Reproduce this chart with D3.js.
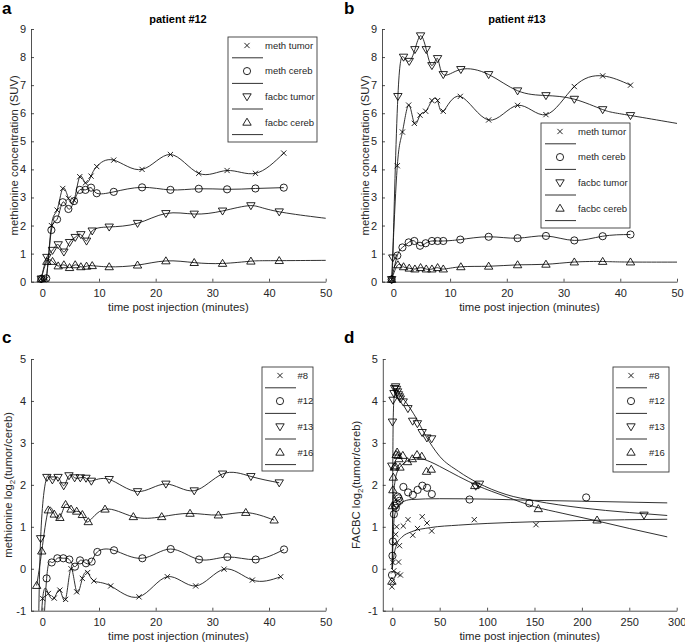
<!DOCTYPE html>
<html>
<head>
<meta charset="utf-8">
<script src="https://cdn.jsdelivr.net/npm/d3@7"></script>
<style>
  body { margin: 0; background: #fff; }
  svg { font-family: "Liberation Sans", Arial, sans-serif; }
</style>
</head>
<body>
<svg id="chart" width="685" height="643"></svg>
<script>
// ---- panel a: patient #12, concentration (SUV) vs minutes ----
const aMethTumor = [[-0.2,0.1],[0.7,0.1],[1.6,2.0],[2.6,2.55],[3.6,3.32],[4.6,2.97],[5.6,2.9],[6.6,3.74],[7.6,3.52],[8.6,3.76],[9.6,4.1],[12.6,4.33],[17.6,4.0],[22.6,4.53],[27.6,3.86],[32.6,3.96],[37.6,3.86],[42.6,4.58]];
const aMethCereb = [[-0.2,0.1],[0.7,0.12],[1.6,1.84],[2.6,2.22],[3.6,2.83],[4.6,2.59],[5.6,2.87],[6.6,3.27],[7.6,3.27],[8.6,3.35],[9.6,3.15],[12.6,3.2],[17.6,3.36],[22.6,3.27],[27.6,3.31],[32.6,3.29],[37.6,3.32],[42.6,3.35]];
const aFacbcTumor = [[-0.2,0.1],[0.8,0.87],[1.8,1.12],[2.8,1.32],[3.8,1.06],[4.8,1.4],[5.8,1.58],[6.8,1.68],[7.8,1.45],[8.8,1.81],[11.8,1.95],[16.8,2.08],[21.8,2.43],[26.8,2.41],[31.8,2.52],[36.8,2.71],[41.8,2.49],[56.8,2.1]];
const aFacbcCereb = [[-0.2,0.1],[0.8,0.72],[1.8,0.72],[2.8,0.56],[3.8,0.6],[4.8,0.5],[5.8,0.6],[6.8,0.53],[7.8,0.55],[8.8,0.57],[11.8,0.53],[16.8,0.59],[21.8,0.74],[26.8,0.68],[31.8,0.65],[36.8,0.73],[41.8,0.75],[56.8,0.77]];

// ---- panel b: patient #13 ----
const bMethTumor = [[-0.3,0.08],[0.7,4.13],[1.6,5.33],[2.7,6.29],[3.7,5.64],[4.7,5.93],[5.7,6.07],[6.8,6.45],[7.8,6.45],[8.8,6.07],[11.8,6.6],[16.8,5.76],[21.9,6.28],[26.9,5.95],[31.9,6.95],[36.9,7.33],[41.8,7.0]];
const bMethCereb = [[-0.3,0.08],[0.7,0.93],[1.6,1.22],[2.7,1.4],[3.7,1.45],[4.7,1.28],[5.7,1.37],[6.8,1.45],[7.8,1.45],[8.8,1.45],[11.8,1.5],[16.8,1.6],[21.9,1.55],[26.9,1.63],[31.9,1.47],[36.9,1.62],[41.8,1.68]];
const bFacbcTumor = [[-0.3,0.08],[-0.1,0.85],[0.8,6.6],[1.8,8.0],[2.8,7.85],[3.8,8.27],[4.8,8.76],[5.8,8.27],[6.8,7.7],[7.8,7.95],[8.8,7.38],[11.9,7.56],[16.8,7.38],[21.9,6.8],[26.9,6.63],[31.9,6.5],[36.9,6.13],[41.8,5.92],[56.8,5.4]];
const bFacbcCereb = [[-0.3,0.08],[0.8,0.6],[1.8,0.53],[2.8,0.48],[3.8,0.45],[4.8,0.5],[5.8,0.45],[6.8,0.45],[7.8,0.5],[8.8,0.45],[11.9,0.53],[16.8,0.55],[21.9,0.6],[26.9,0.62],[31.9,0.7],[36.9,0.72],[41.8,0.7],[56.8,0.7]];

// ---- panel c: methionine log2(tumor/cereb) ----
const cP8 = [[-0.7,-3],[0.06,-0.71],[1.06,-0.59],[2.1,-0.7],[3.1,-0.51],[4.1,-0.73],[5.06,0.0],[6.06,-0.55],[7.06,-0.23],[8.0,-0.09],[9.1,-0.29],[12.06,-0.41],[17.06,-0.67],[22.06,-0.19],[27.06,-0.41],[32.06,-0.01],[37.06,-0.27],[42.06,-0.19]];
const cP12 = [[-0.3,-3],[0.76,-0.23],[1.65,0.15],[2.65,0.25],[3.7,0.25],[4.76,0.22],[5.76,0.05],[6.65,0.2],[7.7,0.13],[8.7,0.17],[9.7,0.4],[12.65,0.44],[17.65,0.25],[22.65,0.47],[27.65,0.22],[32.65,0.28],[37.65,0.22],[42.65,0.46]];
const cP13 = [[-0.8,-3],[-0.3,0.72],[0.8,2.18],[1.77,2.12],[2.77,2.18],[3.77,1.98],[4.7,2.22],[5.7,2.17],[6.7,2.17],[7.7,2.16],[8.65,2.09],[11.8,2.13],[16.8,1.84],[21.8,2.02],[26.8,1.86],[31.8,2.26],[36.8,2.2],[41.8,2.05]];
const cP16 = [[-1.0,-0.4],[-0.1,0.42],[1.06,1.4],[2.1,1.3],[3.1,1.22],[4.1,1.53],[5.06,1.42],[6.06,1.37],[7.06,1.29],[8.1,1.12],[11.06,1.42],[16.06,1.24],[21.06,1.24],[26.06,1.32],[31.06,1.28],[35.9,1.34],[40.9,1.16]];

// ---- panel d: FACBC log2(tumor/cereb), points and fitted curves ----
const dP8 = [[-0.4,-0.43],[0.1,-0.3],[0.6,0.15],[1.6,-0.05],[2.6,0.6],[3.6,0.82],[4.6,1.0],[5.6,-0.12],[6.6,0.16],[7.6,0.55],[8.6,-0.15],[11.6,1.02],[16.6,1.17],[21.6,0.8],[26.6,0.96],[31.6,1.24],[36.6,1.09],[41.6,0.9],[86.5,1.17],[151.6,1.05]];
const dP12 = [[-0.3,-0.15],[0.2,0.31],[0.7,0.65],[1.7,1.3],[2.7,1.5],[3.7,1.45],[4.7,1.55],[5.7,1.72],[6.7,1.68],[7.7,1.62],[11.7,1.95],[16.7,1.82],[21.7,1.76],[26.7,1.88],[31.7,1.98],[36.7,1.93],[41.7,1.78],[81.5,1.65],[144.5,1.56],[204.5,1.7]];
const dP13 = [[-0.5,2.45],[0.2,3.5],[0.8,4.02],[1.8,4.18],[2.5,4.3],[3.5,4.34],[4.5,4.28],[5.5,4.22],[6.5,4.15],[7.5,4.1],[8.5,4.05],[11.5,3.98],[16.5,3.82],[21.5,3.52],[26.5,3.46],[31.5,3.25],[36.5,3.12],[41.5,3.1],[88,1.97],[92,2.02],[265.5,1.28]];
const dP16 = [[-0.4,-0.3],[0.1,1.5],[0.6,1.88],[1.1,2.18],[2.1,2.42],[3.1,2.45],[4.1,2.72],[5.1,2.78],[6.1,2.7],[7.1,2.62],[8.1,2.42],[11.1,2.7],[16.1,2.55],[21.1,2.62],[26.1,2.72],[31.1,2.68],[36.1,2.32],[41.1,2.37],[87,1.98],[154,1.43],[216,1.16]];
const dFit8 = [[0,0],[2,0.35],[5,0.6],[10,0.75],[20,0.88],[40,0.98],[70,1.04],[100,1.08],[150,1.12],[200,1.15],[290,1.18]];
const dFit12 = [[0,0],[1,0.8],[2,1.2],[5,1.45],[10,1.58],[20,1.65],[50,1.67],[100,1.66],[150,1.63],[200,1.61],[290,1.57]];
const dFit13 = [[0,0],[1,3.6],[2,4.1],[4,4.3],[8,4.15],[15,3.95],[25,3.6],[35,3.18],[50,2.68],[70,2.32],[90,2.05],[120,1.77],[150,1.62],[200,1.45],[250,1.34],[290,1.27]];
const dFit16 = [[0,0],[1,1.6],[3,2.1],[6,2.35],[10,2.47],[20,2.6],[30,2.62],[40,2.55],[50,2.44],[70,2.2],[90,1.98],[120,1.72],[150,1.48],[180,1.32],[216,1.14],[250,0.96],[290,0.76]];

const labelsAB = ["meth tumor", "meth cereb", "facbc tumor", "facbc cereb"];
const labelsCD = ["#8", "#12", "#13", "#16"];
const xTicksShort = [0, 10, 20, 30, 40, 50];
const xTicksLong = [0, 50, 100, 150, 200, 250, 300];
const yTicksSUV = [0, 1, 2, 3, 4, 5, 6, 7, 8, 9];
const yTicksLog = [-1, 0, 1, 2, 3, 4, 5];

const axisColor = "#262626";
const svg = d3.select("#chart");

// marker shapes: x, circle, triangle down, triangle up
const markerPath = [
  "M-2.6,-2.6L2.6,2.6M-2.6,2.6L2.6,-2.6",
  "M3.6,0A3.6,3.6 0 1,1 -3.6,0A3.6,3.6 0 1,1 3.6,0Z",
  "M-4.2,-2.9L4.2,-2.9L0,4.1Z",
  "M-4.2,2.9L4.2,2.9L0,-4.1Z"
];

function drawPanel(p) {
  const g = svg.append("g");
  const x = d3.scaleLinear().domain(p.xDomain).range(p.xRange);
  const y = d3.scaleLinear().domain(p.yDomain).range(p.yRange);

  g.append("clipPath").attr("id", "clip-" + p.id)
    .append("rect")
    .attr("x", p.xRange[0]).attr("y", p.yRange[1])
    .attr("width", p.xRange[1] - p.xRange[0])
    .attr("height", p.yRange[0] - p.yRange[1]);

  // axes, MATLAB style: ticks inside, no box
  const fmt = d => String(d);
  const xAxis = g.append("g")
    .attr("transform", `translate(0,${p.yRange[0]})`)
    .call(d3.axisBottom(x).tickValues(p.xTicks).tickFormat(fmt).tickSize(-3).tickSizeOuter(0).tickPadding(8));
  const yAxis = g.append("g")
    .attr("transform", `translate(${p.xRange[0]},0)`)
    .call(d3.axisLeft(y).tickValues(p.yTicks).tickFormat(fmt).tickSize(-3).tickSizeOuter(0).tickPadding(5));
  [xAxis, yAxis].forEach(a => {
    a.attr("font-family", null).attr("font-size", 11);
    a.selectAll("path, line").attr("stroke", axisColor).attr("stroke-width", 0.8);
    a.selectAll("text").attr("fill", axisColor);
  });

  const line = d3.line().x(d => x(d[0])).y(d => y(d[1]));
  const plot = g.append("g").attr("clip-path", `url(#clip-${p.id})`);

  // spline through the points (a-c) or fitted curves (d)
  const curves = p.fits || p.series;
  plot.selectAll("path.curve")
    .data(curves)
    .enter().append("path")
    .attr("class", "curve")
    .attr("d", d => line.curve(p.fits ? d3.curveMonotoneX : d3.curveNatural)(d))
    .attr("fill", "none")
    .attr("stroke", "#1a1a1a")
    .attr("stroke-width", 0.9);

  const inside = d => d[0] >= p.xDomain[0] && d[0] <= p.xDomain[1] && d[1] >= p.yDomain[0] && d[1] <= p.yDomain[1];
  p.series.forEach((s, i) => {
    g.append("g").selectAll("path")
      .data(s.filter(inside))
      .enter().append("path")
      .attr("d", markerPath[i])
      .attr("transform", d => `translate(${x(d[0])},${y(d[1])})`)
      .attr("fill", "none")
      .attr("stroke", "#000")
      .attr("stroke-width", 0.85);
  });

  // legend: marker entry with label, then an unlabeled line entry
  const L = p.legend;
  const lg = g.append("g").attr("transform", `translate(${L.x},${L.y})`);
  lg.append("rect").attr("width", L.w).attr("height", L.h)
    .attr("fill", "#fff").attr("stroke", "#3a3a3a").attr("stroke-width", 0.9);
  p.labels.forEach((lab, i) => {
    const ry = 8.5 + i * 25.6;
    lg.append("path").attr("d", markerPath[i])
      .attr("transform", `translate(${L.mx},${ry})`)
      .attr("fill", "none").attr("stroke", "#000").attr("stroke-width", 0.85);
    lg.append("text").attr("x", L.tx).attr("y", ry + 3.3)
      .attr("font-size", 9.5).attr("fill", axisColor).text(lab);
    lg.append("line").attr("x1", L.lx0).attr("x2", L.lx1)
      .attr("y1", ry + 12.3).attr("y2", ry + 12.3)
      .attr("stroke", "#1a1a1a").attr("stroke-width", 0.9);
  });

  // labels
  const xMid = (p.xRange[0] + p.xRange[1]) / 2;
  const yMid = (p.yRange[0] + p.yRange[1]) / 2;
  g.append("text").attr("x", xMid).attr("y", p.yRange[0] + 29.5)
    .attr("text-anchor", "middle").attr("font-size", 11.3).attr("fill", axisColor)
    .text("time post injection (minutes)");
  const yl = g.append("text")
    .attr("transform", `translate(${p.ylabelX},${yMid}) rotate(-90)`)
    .attr("text-anchor", "middle").attr("font-size", 11.3).attr("fill", axisColor);
  if (p.ylabelSub) {
    yl.append("tspan").text(p.ylabel[0]);
    yl.append("tspan").attr("dy", 3).attr("font-size", 8).text("2");
    yl.append("tspan").attr("dy", -3).text(p.ylabel[1]);
  } else {
    yl.text(p.ylabel);
  }
  if (p.title) {
    g.append("text").attr("x", p.titleX).attr("y", 23)
      .attr("text-anchor", "middle").attr("font-size", 11).attr("font-weight", "bold")
      .attr("fill", "#000").text(p.title);
  }
  g.append("text").attr("x", p.letterX).attr("y", p.letterY)
    .attr("font-size", 17).attr("font-weight", "bold").attr("fill", "#000").text(p.letter);
}

drawPanel({
  id: "a", letter: "a", letterX: 2, letterY: 14, title: "patient #12", titleX: 178,
  xDomain: [-2, 50], xRange: [31, 325.7], yDomain: [0, 9], yRange: [281.7, 29],
  xTicks: xTicksShort, yTicks: yTicksSUV,
  ylabel: "methionine concentration (SUV)", ylabelX: 18,
  series: [aMethTumor, aMethCereb, aFacbcTumor, aFacbcCereb], labels: labelsAB,
  legend: { x: 228, y: 37, w: 89, h: 105, mx: 19, tx: 37, lx0: 4, lx1: 35 }
});
drawPanel({
  id: "b", letter: "b", letterX: 344, letterY: 14, title: "patient #13", titleX: 517,
  xDomain: [-2, 50], xRange: [382, 677], yDomain: [0, 9], yRange: [281.7, 29],
  xTicks: xTicksShort, yTicks: yTicksSUV,
  ylabel: "methionine concentration (SUV)", ylabelX: 369,
  series: [bMethTumor, bMethCereb, bFacbcTumor, bFacbcCereb], labels: labelsAB,
  legend: { x: 541, y: 123, w: 89, h: 105, mx: 19, tx: 37, lx0: 4, lx1: 35 }
});
drawPanel({
  id: "c", letter: "c", letterX: 2, letterY: 343,
  xDomain: [-2, 50], xRange: [31, 325.7], yDomain: [-1, 5], yRange: [610.7, 359],
  xTicks: xTicksShort, yTicks: yTicksLog,
  ylabel: ["methionine log", "(tumor/cereb)"], ylabelSub: true, ylabelX: 12,
  series: [cP8, cP12, cP13, cP16], labels: labelsCD,
  legend: { x: 262, y: 367, w: 51, h: 104, mx: 18, tx: 35.5, lx0: 3, lx1: 34 }
});
drawPanel({
  id: "d", letter: "d", letterX: 344, letterY: 343,
  xDomain: [-10, 300], xRange: [382.8, 676.7], yDomain: [-1, 5], yRange: [610.7, 359],
  xTicks: xTicksLong, yTicks: yTicksLog,
  ylabel: ["FACBC log", "(tumor/cereb)"], ylabelSub: true, ylabelX: 360,
  series: [dP8, dP12, dP13, dP16], fits: [dFit8, dFit12, dFit13, dFit16], labels: labelsCD,
  legend: { x: 613, y: 367, w: 56, h: 105, mx: 18, tx: 36, lx0: 3, lx1: 34 }
});
</script>
</body>
</html>
